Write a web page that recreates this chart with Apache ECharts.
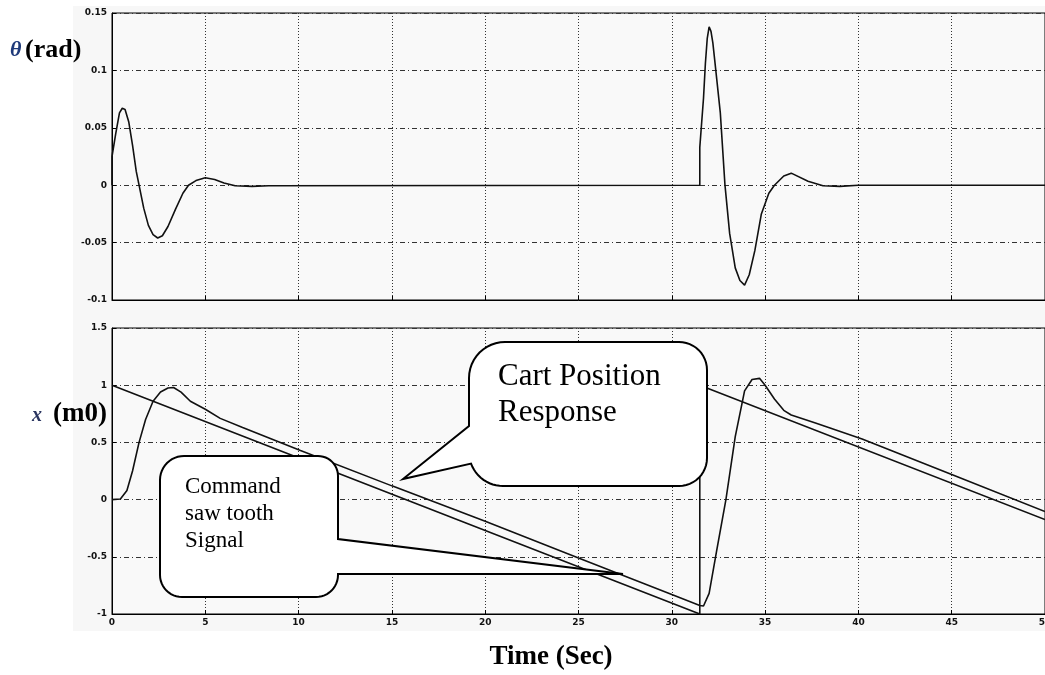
<!DOCTYPE html>
<html>
<head>
<meta charset="utf-8">
<script src="https://cdn.jsdelivr.net/npm/echarts@6/dist/echarts.min.js"></script>
<style>
html,body{margin:0;padding:0;background:#fff;}
#chart{width:1045px;height:675px;}
</style>
</head>
<body>
<div id="chart"></div>
<script>
// ---- Data ----
const xTicks = [0, 5, 10, 15, 20, 25, 30, 35, 40, 45, 50];
const thetaTicks = [-0.1, -0.05, 0, 0.05, 0.1, 0.15];
const posTicks = [-1, -0.5, 0, 0.5, 1, 1.5];

// pendulum angle theta (rad) vs time (s)
const thetaResponse = [
  [0, 0], [0, 0.025], [0.2, 0.045], [0.4, 0.063], [0.55, 0.067], [0.7, 0.066],
  [0.9, 0.055], [1.1, 0.035], [1.3, 0.012], [1.45, 0], [1.7, -0.02], [1.95, -0.035],
  [2.2, -0.043], [2.45, -0.046], [2.7, -0.044], [3.0, -0.036], [3.4, -0.021],
  [3.8, -0.007], [4.1, 0], [4.5, 0.004], [5.0, 0.0065], [5.5, 0.005], [6.0, 0.002],
  [6.6, -0.0005], [7.5, -0.001], [8.4, -0.0005], [8.5, 0], [31.5, 0],
  [31.5, 0.033], [31.7, 0.076], [31.8, 0.106], [31.9, 0.128], [32.0, 0.138],
  [32.1, 0.134], [32.2, 0.124], [32.3, 0.109], [32.6, 0.063], [32.85, 0],
  [33.1, -0.042], [33.4, -0.072], [33.65, -0.083], [33.9, -0.087], [34.15, -0.078],
  [34.45, -0.057], [34.8, -0.025], [35.2, -0.007], [35.5, 0], [36.0, 0.008],
  [36.4, 0.0105], [37.3, 0.0035], [38.1, -0.0005], [39.0, -0.001], [40.0, 0], [50, 0]
];

// command saw tooth signal (m)
const commandSignal = [
  [0, 1], [31.5, -1], [31.5, 1], [50, -0.175]
];

// cart position response (m)
const cartResponse = [
  [0, 0], [0.45, 0.005], [0.8, 0.08], [1.1, 0.25], [1.45, 0.5], [1.8, 0.7],
  [2.2, 0.86], [2.6, 0.94], [3.0, 0.975], [3.3, 0.98], [3.7, 0.94], [4.2, 0.86],
  [5.0, 0.79], [5.8, 0.71], [7.0, 0.63], [10.1, 0.43], [15, 0.12], [20, -0.19],
  [25, -0.51], [30, -0.83], [31.5, -0.925], [31.7, -0.93], [32.0, -0.82],
  [32.4, -0.45], [32.9, 0], [33.4, 0.55], [33.9, 0.95], [34.3, 1.05], [34.7, 1.06],
  [35.0, 1.0], [35.5, 0.88], [36.0, 0.78], [36.4, 0.74], [37.7, 0.67],
  [40.2, 0.53], [45, 0.22], [50, -0.105]
];

// ---- helpers for callout outlines (annotation shapes, not data) ----
function arcPts(cx, cy, r, a0, a1) {
  const pts = [];
  const n = 12;
  for (let i = 0; i <= n; i++) {
    const a = (a0 + (a1 - a0) * i / n) * Math.PI / 180;
    pts.push([cx + r * Math.cos(a), cy + r * Math.sin(a)]);
  }
  return pts;
}
const cartOutline = [].concat(
  arcPts(505, 378, 36, 180, 270),
  arcPts(679, 370, 28, 270, 360),
  arcPts(679, 458, 28, 0, 90),
  arcPts(503, 452, 34, 90, 160),
  [[403, 479], [469, 426]]
);
const cmdOutline = [].concat(
  arcPts(184, 480, 24, 180, 270),
  arcPts(318, 476, 20, 270, 360),
  [[338, 539], [623, 574], [338, 574]],
  arcPts(316, 575, 22, 0, 90),
  arcPts(182, 575, 22, 90, 180)
);

// ---- Chart ----
const chart = echarts.init(document.getElementById('chart'), null, {renderer: 'canvas'});
const tickFont = {fontFamily: 'DejaVu Sans', fontWeight: 'bold', fontSize: 9, color: '#111'};
const hGrid = {show: true, lineStyle: {color: '#333', width: 1, type: [5, 3, 1, 3]}};
const vGrid = {show: true, lineStyle: {color: '#333', width: 1, type: [1, 2]}};
const fmt = v => String(+(+v).toFixed(2));

function xAxisDef(gridIndex, showLabels) {
  return {
    type: 'value', gridIndex, min: xTicks[0], max: xTicks[xTicks.length - 1], interval: 5,
    axisLine: {show: true, onZero: false, lineStyle: {color: '#000', width: 1}},
    axisTick: {show: true, inside: true, length: 4, lineStyle: {color: '#000'}},
    axisLabel: Object.assign({show: showLabels, margin: 4, formatter: fmt}, tickFont),
    splitLine: vGrid
  };
}
function yAxisDef(gridIndex, ticks) {
  return {
    type: 'value', gridIndex, min: ticks[0], max: ticks[ticks.length - 1],
    interval: ticks[1] - ticks[0],
    axisLine: {show: true, onZero: false, lineStyle: {color: '#000', width: 1}},
    axisTick: {show: true, inside: true, length: 4, lineStyle: {color: '#000'}},
    axisLabel: Object.assign({margin: 5, formatter: fmt}, tickFont),
    splitLine: hGrid
  };
}
const lineStyle = {color: '#111', width: 1.6};

const calloutStyle = {fill: '#fff', stroke: '#000', lineWidth: 2};
const serif = '"Liberation Serif", "Times New Roman", serif';

const option = {
  animation: false,
  backgroundColor: '#ffffff',
  grid: [
    {left: 112, right: 0, top: 13, height: 287, show: true, outerBoundsMode: 'none', containLabel: false, backgroundColor: '#f9f9f9', borderColor: '#000', borderWidth: 1},
    {left: 112, right: 0, top: 328, height: 286, show: true, outerBoundsMode: 'none', containLabel: false, backgroundColor: '#f9f9f9', borderColor: '#000', borderWidth: 1}
  ],
  xAxis: [xAxisDef(0, false), xAxisDef(1, true)],
  yAxis: [yAxisDef(0, thetaTicks), yAxisDef(1, posTicks)],
  series: [
    {name: 'theta', type: 'line', xAxisIndex: 0, yAxisIndex: 0, data: thetaResponse, showSymbol: false, lineStyle, z: 3},
    {name: 'command', type: 'line', xAxisIndex: 1, yAxisIndex: 1, data: commandSignal, showSymbol: false, lineStyle, z: 3},
    {name: 'cart', type: 'line', xAxisIndex: 1, yAxisIndex: 1, data: cartResponse, showSymbol: false, lineStyle, z: 3}
  ],
  graphic: [
    {type: 'rect', z: -10, silent: true, shape: {x: 73, y: 6, width: 972, height: 625}, style: {fill: '#f7f7f7'}},
    // callouts
    {type: 'polygon', z: 100, shape: {points: cartOutline}, style: calloutStyle},
    {type: 'polygon', z: 100, shape: {points: cmdOutline}, style: calloutStyle},
    {type: 'text', z: 101, x: 498, y: 377, style: {text: 'Cart Position', font: '31px ' + serif, fill: '#000', textVerticalAlign: 'middle'}},
    {type: 'text', z: 101, x: 498, y: 413, style: {text: 'Response', font: '31px ' + serif, fill: '#000', textVerticalAlign: 'middle'}},
    {type: 'text', z: 101, x: 185, y: 487, style: {text: 'Command', font: '23px ' + serif, fill: '#000', textVerticalAlign: 'middle'}},
    {type: 'text', z: 101, x: 185, y: 514, style: {text: 'saw tooth', font: '23px ' + serif, fill: '#000', textVerticalAlign: 'middle'}},
    {type: 'text', z: 101, x: 185, y: 541, style: {text: 'Signal', font: '23px ' + serif, fill: '#000', textVerticalAlign: 'middle'}},
    // axis titles
    {type: 'text', z: 101, x: 10, y: 50, style: {text: 'θ', font: 'italic bold 22px ' + serif, fill: '#1f3a7a', textVerticalAlign: 'middle'}},
    {type: 'text', z: 101, x: 25, y: 50, style: {text: '(rad)', font: 'bold 26px ' + serif, fill: '#000', textVerticalAlign: 'middle'}},
    {type: 'text', z: 101, x: 32, y: 416, style: {text: 'x', font: 'italic bold 20px ' + serif, fill: '#2a3560', textVerticalAlign: 'middle'}},
    {type: 'text', z: 101, x: 53, y: 414, style: {text: '(m0)', font: 'bold 27px ' + serif, fill: '#000', textVerticalAlign: 'middle'}},
    {type: 'text', z: 101, x: 551, y: 657, style: {text: 'Time (Sec)', font: 'bold 27px ' + serif, fill: '#000', textAlign: 'center', textVerticalAlign: 'middle'}}
  ]
};
chart.setOption(option);
</script>
</body>
</html>
